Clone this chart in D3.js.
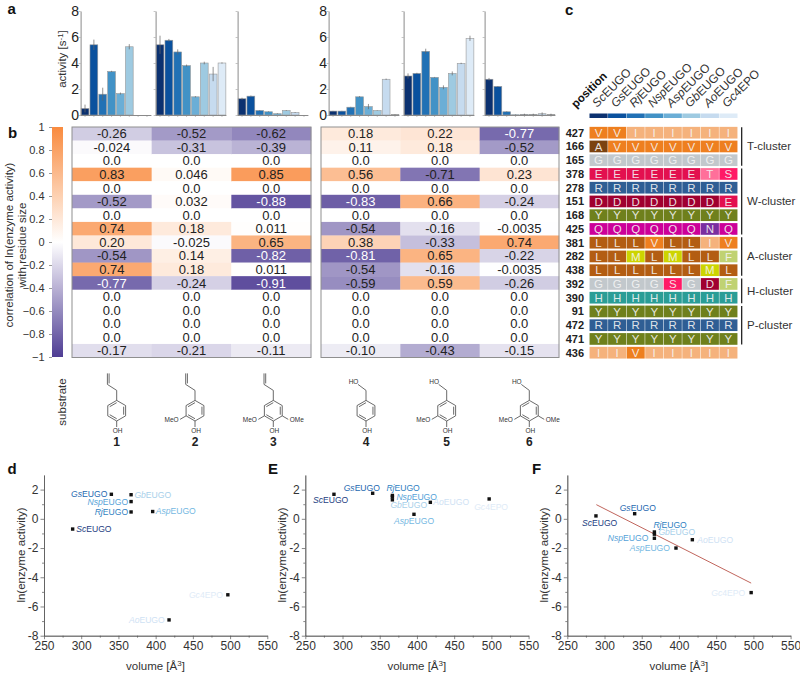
<!DOCTYPE html>
<html><head><meta charset="utf-8">
<script src="https://cdn.jsdelivr.net/npm/d3@7"></script>
<style>html,body{margin:0;padding:0;background:#fff}svg{display:block}text{font-family:"Liberation Sans",Arial,sans-serif}</style>
</head><body><svg id="c" width="800" height="673" viewBox="0 0 800 673"></svg>
<script>
const enzymes = ["ScEUGO","GsEUGO","RjEUGO","NspEUGO","AspEUGO","GbEUGO","AoEUGO","Gc4EPO"];
const italicParts = ["Sc","Gs","Rj","Nsp","Asp","Gb","Ao","Gc"];
const enzymeColors = ["#0b3170","#0a519e","#2171b5","#4292c6","#6baed6","#9ecae1","#c6dbef","#deebf7"];
const labelColors = ["#24407f","#2468b0","#2f7fc2","#55a2d8","#74b8e2","#a8d0ea","#cfe2f4","#e0ebf7"];

const activity1 = [0.5,5.4,1.6,3.35,1.65,5.25,0,0];
const activity2 = [5.4,5.75,4.85,3.8,1.4,4.0,3.15,4.0];
const activity3 = [1.25,1.45,0.35,0.25,0.1,0.35,0.2,0];
const activity4 = [0.3,0.3,0.6,1.4,0.65,0.35,2.75,0.03];
const activity5 = [3.0,3.2,4.9,2.9,2.13,3.2,3.97,5.9];
const activity6 = [2.75,2.2,0.25,0.02,0.05,0.05,0.1,0.05];
const error1 = [0.3,0.4,0.5,0.05,0.08,0.2,0,0];
const error2 = [0.7,0.1,0.2,0.08,0.05,0.1,0.55,0.05];
const error3 = [0.08,0.05,0.03,0.03,0.03,0.03,0.03,0];
const error4 = [0.02,0.02,0.03,0.05,0.2,0.02,0.05,0.02];
const error5 = [0.2,0.05,0.2,0.03,0.15,0.15,0.05,0.2];
const error6 = [0.1,0.03,0.03,0.02,0.05,0.05,0.1,0.05];
const yTicksBar = [0,2,4,6,8];

const corr1 = ["-0.26","-0.024","0.0","0.83","0.0","-0.52","0.0","0.74","0.20","-0.54","0.74","-0.77","0.0","0.0","0.0","0.0","-0.17"];
const corr2 = ["-0.52","-0.31","0.0","0.046","0.0","0.032","0.0","0.18","-0.025","0.14","0.18","-0.24","0.0","0.0","0.0","0.0","-0.21"];
const corr3 = ["-0.62","-0.39","0.0","0.85","0.0","-0.88","0.0","0.011","0.65","-0.82","0.011","-0.91","0.0","0.0","0.0","0.0","-0.11"];
const corr4 = ["0.18","0.11","0.0","0.56","0.0","-0.83","0.0","-0.54","0.38","-0.81","-0.54","-0.59","0.0","0.0","0.0","0.0","-0.10"];
const corr5 = ["0.22","0.18","0.0","-0.71","0.0","0.66","0.0","-0.16","-0.33","0.65","-0.16","0.59","0.0","0.0","0.0","0.0","-0.43"];
const corr6 = ["-0.77","-0.52","0.0","0.23","0.0","-0.24","0.0","-0.0035","0.74","-0.22","-0.0035","-0.26","0.0","0.0","0.0","0.0","-0.15"];
const colorTicks = [1,0.8,0.6,0.4,0.2,0,-0.2,-0.4,-0.6,-0.8,-1];

const positions = ["427","166","165","378","278","151","168","425","381","282","438","392","390","91","472","471","436"];
const residues = ["VVIIIIII","AVVVVVVV","GGGGGGGG","EEEEEETS","RRRRRRRR","DDDDDDDE","YYYYYYYY","QQQQQQNQ","LLLVLLIV","LLMLMLLF","LLLLLLML","GGGGSGDF","HHHHHHHH","YYYYYYYY","RRRRRRRR","YYYYYYYY","IIVIIIII"];
const residueColors = {V:"#ee7f1f",I:"#f5b27c",A:"#7b4210",G:"#c2c8cc",E:"#e3104f",T:"#ff6f9a",S:"#ff1a66",R:"#2f5e94",D:"#a00030",Y:"#6f801c",Q:"#cc0099",N:"#7a2fa0",L:"#b35d12",M:"#cdd400",F:"#c0d272",H:"#2a9d96"};
const clusters = ["T-cluster","W-cluster","A-cluster","H-cluster","P-cluster"];
const clusterFirst = ["427","378","381","392","91"];
const clusterLast = ["165","425","438","390","471"];

const volumes = [288.5,340.5,367,367,396,367,418,497];
const lnD = [-0.7,1.68,0.47,1.18,0.5,1.65,-6.92,-5.2];
const lnE = [1.68,1.75,1.6,1.5,0.31,1.3,1.13,1.36];
const lnF = [0.2,0.35,-0.9,-1.33,-2.0,-1.05,-1.43,-5.05];
const fitX = [289,497];
const fitF = [0.97,-4.4];
const xTicksScatter = [250,300,350,400,450,500,550];
const xMinorScatter = [275,325,375,425,475,525];
const yTicksScatter = [2,0,-2,-4,-6,-8];
const yMinorScatter = [1,-1,-3,-5,-7];

const substrates = ["1","2","3","4","5","6"];
const substrateTail = ["allyl","allyl","allyl","alcohol","alcohol","alcohol"];
const substrateOMe = [0,1,2,0,1,2];

const svg = d3.select("#c");
const AX = "#8a8a8a";

function panelLetter(t,x,y){svg.append("text").attr("x",x).attr("y",y).attr("font-size",15).attr("font-weight","bold").attr("fill","#111").text(t);}
panelLetter("a",7.5,14);panelLetter("b",8,138);panelLetter("c",565,14.5);
panelLetter("d",7.5,474);panelLetter("E",268,474);panelLetter("F",532,474);

// ---- a: bars
const barY = d3.scaleLinear().domain([0,8]).range([115,11]);
const barSeries = [activity1,activity2,activity3,activity4,activity5,activity6];
const barErr = [error1,error2,error3,error4,error5,error6];
const barRanges = [[80.6,151.4],[155.6,226.4],[237.6,308.4],[328.6,399.4],[403.6,474.4],[484.6,555.4]];
barSeries.forEach((vals,p)=>{
  const x = d3.scaleBand().domain(enzymes).range(barRanges[p]).paddingInner(0.12).paddingOuter(0.06);
  const g = svg.append("g");
  const bars = g.selectAll("g.b").data(enzymes).join("g");
  bars.filter((d,i)=>vals[i]>0).append("rect").attr("x",d=>x(d)).attr("width",x.bandwidth())
    .attr("y",d=>barY(vals[enzymes.indexOf(d)])).attr("height",d=>barY(0)-barY(vals[enzymes.indexOf(d)]))
    .attr("fill",d=>enzymeColors[enzymes.indexOf(d)]).attr("stroke","#9a9a9a").attr("stroke-width",0.6);
  bars.filter((d,i)=>barErr[p][i]>0).append("line").attr("x1",d=>x(d)+x.bandwidth()/2).attr("x2",d=>x(d)+x.bandwidth()/2)
    .attr("y1",d=>barY(vals[enzymes.indexOf(d)]+barErr[p][enzymes.indexOf(d)]))
    .attr("y2",d=>barY(vals[enzymes.indexOf(d)]-barErr[p][enzymes.indexOf(d)]))
    .attr("stroke","#666").attr("stroke-width",0.7);
  const gx = g.append("g").attr("transform",`translate(0,${barY(0)})`)
    .call(d3.axisBottom(x).tickSize(2).tickFormat(""));
  gx.select(".domain").attr("stroke",AX).attr("d",`M${barRanges[p][0]},0.5H${barRanges[p][1]}`);
  gx.selectAll("line").attr("stroke",AX).attr("stroke-width",0.5);
  const gy = g.append("g").attr("transform",`translate(${barRanges[p][0]},0)`)
    .call(d3.axisLeft(barY).tickValues(yTicksBar).tickSize(2).tickSizeOuter(0).tickFormat(p%3===0?d3.format("d"):""));
  gy.select(".domain").attr("stroke",AX);
  gy.selectAll("line").attr("stroke",AX).attr("stroke-width",0.5);
  gy.selectAll("text").attr("font-size",14).attr("fill","#222").attr("x",-1.5)
    .attr("font-family",'"Liberation Sans",Arial,sans-serif');
});
svg.append("text").attr("transform","translate(66,59) rotate(-90)").attr("text-anchor","middle").attr("font-size",11.5).attr("fill","#333")
  .html('activity [s<tspan dy="-3" font-size="8">-1</tspan><tspan dy="3">]</tspan>');

// ---- b: heatmap
const heatRows = d3.range(17);
const heatY = d3.scaleBand().domain(heatRows).range([127,357.5]);
const colorScale = d3.scaleLinear().domain([-1,0,1]).range(["#4f3d94","#ffffff","#f98b3f"]);
const heatPanels = [{cols:[corr1,corr2,corr3],r:[72,311]},{cols:[corr4,corr5,corr6],r:[321,559]}];
heatPanels.forEach(pn=>{
  const x = d3.scaleBand().domain(d3.range(3)).range(pn.r);
  const g = svg.append("g");
  pn.cols.forEach((col,ci)=>{
    const c = g.selectAll(null).data(col).join("g");
    c.append("rect").attr("x",x(ci)).attr("width",x.bandwidth()+0.3).attr("y",(d,i)=>heatY(i)).attr("height",heatY.bandwidth()+0.3)
      .attr("fill",d=>colorScale(+d));
    c.append("text").attr("x",x(ci)+x.bandwidth()/2).attr("y",(d,i)=>heatY(i)+heatY.bandwidth()/2+4.6)
      .attr("text-anchor","middle").attr("font-size",13).attr("fill",d=>(+d)<=-0.75?"#fff":"#222").text(d=>d);
  });
  g.append("rect").attr("x",pn.r[0]).attr("y",127).attr("width",pn.r[1]-pn.r[0]).attr("height",230.5)
    .attr("fill","none").attr("stroke","#8f8f8f").attr("stroke-width",1);
});
// colour bar
const cbY = d3.scaleLinear().domain([1,-1]).range([127,357]);
const defs = svg.append("defs");
const gr = defs.append("linearGradient").attr("id","cb").attr("x1",0).attr("x2",0).attr("y1",0).attr("y2",1);
colorTicks.forEach(t=>gr.append("stop").attr("offset",(1-t)/2).attr("stop-color",colorScale(t)));
svg.append("rect").attr("x",52).attr("y",127).attr("width",11).attr("height",230).attr("fill","url(#cb)");
const cba = svg.append("g").attr("transform","translate(52,0)").call(d3.axisLeft(cbY).tickValues(colorTicks).tickSize(3).tickSizeOuter(0).tickFormat(d3.format("")));
cba.select(".domain").remove();
cba.selectAll("line").attr("stroke","#555").attr("stroke-width",0.6);
cba.selectAll("text").attr("font-size",11).attr("fill","#333").attr("x",-7.5).attr("font-family",'"Liberation Sans",Arial,sans-serif');
svg.append("text").attr("transform","translate(13,245) rotate(-90)").attr("text-anchor","middle").attr("font-size",11.5).attr("fill","#333").text("correlation of ln(enzyme activity)");
svg.append("text").attr("transform","translate(25.5,245) rotate(-90)").attr("text-anchor","middle").attr("font-size",11.5).attr("fill","#333").text("with residue size");

// ---- c: alignment
const alX = d3.scaleBand().domain(d3.range(8)).range([589.3,737.7]);
const alY = d3.scaleBand().domain(positions).range([126.85,358.55]).paddingInner(0.149);
const rowCy = p=>alY(p)+alY.bandwidth()/2;
positions.forEach((pos,ri)=>{
  svg.append("text").attr("x",584).attr("y",rowCy(pos)+4).attr("text-anchor","end").attr("font-size",11).attr("font-weight","bold").attr("fill","#222").text(pos);
  const g = svg.append("g").selectAll("g").data(residues[ri].split("")).join("g");
  g.append("rect").attr("x",(d,i)=>alX(i)+0.25).attr("width",alX.bandwidth()-0.5).attr("y",alY(pos)).attr("height",alY.bandwidth()).attr("fill",d=>residueColors[d]);
  g.append("text").attr("x",(d,i)=>alX(i)+alX.bandwidth()/2).attr("y",rowCy(pos)+4.2).attr("text-anchor","middle").attr("font-size",11.5).attr("fill","#f4f4f4").attr("fill-opacity",0.9).text(d=>d);
});
clusters.forEach((c,i)=>{
  const y1=alY(clusterFirst[i])+0.3, y2=alY(clusterLast[i])+alY.bandwidth()-0.3;
  svg.append("line").attr("x1",741.7).attr("x2",741.7).attr("y1",y1).attr("y2",y2).attr("stroke","#111").attr("stroke-width",1.2);
  svg.append("text").attr("x",747).attr("y",(y1+y2)/2+4).attr("font-size",11.5).attr("fill","#333").text(c);
});
alX.domain().forEach(i=>{
  svg.append("rect").attr("x",alX(i)+0.2).attr("y",113.5).attr("width",alX.bandwidth()-0.4).attr("height",4.5).attr("fill",enzymeColors[i]);
  const cx = alX(i)+alX.bandwidth()/2;
  const t = svg.append("text").attr("transform",`translate(${cx-1.5},108) rotate(-45)`).attr("font-size",12).attr("fill","#333");
  const ip = italicParts[i];
  t.append("tspan").attr("font-style","italic").text(ip);
  t.append("tspan").text(enzymes[i].slice(ip.length));
});
svg.append("text").attr("transform","translate(576,108.5) rotate(-45)").attr("font-size",11.5).attr("font-weight","bold").attr("fill","#111").text("position");

// ---- substrates
svg.append("text").attr("transform","translate(66,402) rotate(-90)").attr("text-anchor","middle").attr("font-size",11.5).attr("fill","#333").text("substrate");
const molCenters = [116.7,195,273.3,366,446.7,529.3];
function molecule(i){
  const cx=molCenters[i], cy=410.7, r=10.3;
  const g=svg.append("g").attr("stroke","#444").attr("stroke-width",0.8).attr("fill","none");
  const L=(a,b,c,d)=>g.append("line").attr("x1",a).attr("y1",b).attr("x2",c).attr("y2",d);
  const v=d3.range(6).map(k=>{const a=(-90+60*k)*Math.PI/180;return [cx+r*Math.cos(a),cy+r*Math.sin(a)];});
  v.forEach((p,k)=>{const q=v[(k+1)%6];L(p[0],p[1],q[0],q[1]);
    if(k%2===1){const f=0.78;
      L(cx+(p[0]-cx)*f,cy+(p[1]-cy)*f,cx+(q[0]-cx)*f,cy+(q[1]-cy)*f);}
  });
  L(cx,cy-r,cx,cy-r-10);
  L(cx,cy+r,cx,cy+r+6);
  const T=(s,x,y)=>svg.append("text").attr("x",x).attr("y",y).attr("text-anchor","middle").attr("font-size",6.5).attr("fill","#333").text(s);
  T("OH",cx+1,432.5);
  if(substrateTail[i]==="allyl"){
    L(cx,cy-r-10,cx-9.3,cy-r-16);
    L(cx-9.3,cy-r-16,cx-9.3,cy-r-27);
    L(cx-7.6,cy-r-17,cx-7.6,cy-r-27);
  } else {
    L(cx,cy-r-10,cx-8,cy-r-16);
    T("HO",cx-12.5,384);
  }
  if(substrateOMe[i]>=1){L(v[4][0],v[4][1],v[4][0]-6,v[4][1]+3.5);T("MeO",v[4][0]-14.5,422);}
  if(substrateOMe[i]>=2){L(v[2][0],v[2][1],v[2][0]+6,v[2][1]+3.5);T("OMe",v[2][0]+14.5,422);}
  svg.append("text").attr("x",cx).attr("y",446).attr("text-anchor","middle").attr("font-size",12).attr("font-weight","bold").attr("fill","#222").text(substrates[i]);
}
substrates.forEach((s,i)=>molecule(i));

// ---- d,E,F: scatter
const lblOff = {
 d:[["s",3.5,0],["e",-4,0],["e",-3,0],["e",-3,0],["s",3,-1],["s",3.3,0],["e",-4.3,0],["e",-5,0]],
 E:[["s",-21,6],["s",-29,-5],["s",-6,-7],["s",4,0],["s",-20,7],["s",-2,5],["s",3,0],["s",-15,8]],
 F:[["s",-14,7],["s",-15,-6],["s",-1,-7],["e",-6,0],["e",-6,0],["s",4,-2],["s",5,0],["e",-6,0]]
};
function scatter(key,vals,x0,titleX,fit){
  const x=d3.scaleLinear().domain([250,550]).range([x0,x0+223.3]);
  const y=d3.scaleLinear().domain([-8,3]).range([635.7,475]);
  const g=svg.append("g");
  const ax=g.append("g").attr("transform","translate(0,635.7)").call(d3.axisBottom(x).tickValues(xTicksScatter).tickSize(3.5).tickSizeOuter(0).tickFormat(d3.format("d")));
  const axm=g.append("g").attr("transform","translate(0,635.7)").call(d3.axisBottom(x).tickValues(xMinorScatter).tickSize(2).tickSizeOuter(0).tickFormat(""));
  const ay=g.append("g").attr("transform",`translate(${x0},0)`).call(d3.axisLeft(y).tickValues(yTicksScatter).tickSize(3.5).tickSizeOuter(0).tickFormat(d=>String(d)));
  const aym=g.append("g").attr("transform",`translate(${x0},0)`).call(d3.axisLeft(y).tickValues(yMinorScatter).tickSize(2).tickSizeOuter(0).tickFormat(""));
  [ax,axm,ay,aym].forEach(a=>{a.selectAll("path,line").attr("stroke","#555").attr("stroke-width",0.7);
    a.selectAll("text").attr("font-size",12).attr("fill","#333").attr("font-family",'"Liberation Sans",Arial,sans-serif');});
  ay.selectAll("text").attr("x",-5.5);
  ax.selectAll("text").attr("y",5.5);
  g.append("text").attr("transform",`translate(${titleX},555) rotate(-90)`).attr("text-anchor","middle").attr("font-size",11.5).attr("fill","#333").text("ln(enzyme activity)");
  g.append("text").attr("x",x0+111.5).attr("y",669.5).attr("text-anchor","middle").attr("font-size",11.5).attr("fill","#333")
    .html('volume [Å<tspan dy="-3.5" font-size="8">3</tspan><tspan dy="3.5">]</tspan>');
  if(fit){g.append("path").attr("d",d3.line().x(d=>x(d[0])).y(d=>y(d[1]))(fitX.map((v,i)=>[v,fit[i]]))).attr("stroke","#b9534a").attr("stroke-width",0.9).attr("fill","none");}
  vals.forEach((v,i)=>{
    const px=x(volumes[i]),py=y(v);
    g.append("rect").attr("x",px-1.7).attr("y",py-1.7).attr("width",3.4).attr("height",3.4).attr("fill","#111");
    const o=lblOff[key][i];
    const t=g.append("text").attr("x",px+o[1]).attr("y",py+o[2]+3).attr("text-anchor",o[0]==="s"?"start":"end").attr("font-size",8.6).attr("fill",labelColors[i]);
    t.append("tspan").attr("font-style","italic").text(italicParts[i]);
    t.append("tspan").text(enzymes[i].slice(italicParts[i].length));
  });
}
scatter("d",lnD,44,24.5,null);
scatter("E",lnE,305.3,286,null);
scatter("F",lnF,567.3,548,fitF);
</script></body></html>
